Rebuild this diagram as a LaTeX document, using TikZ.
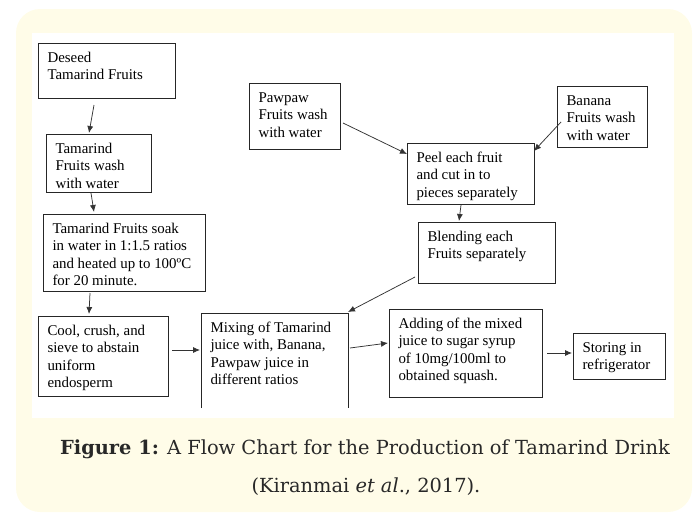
\documentclass[tikz,border=0pt]{standalone}
\usepackage{fontspec}
\setmainfont{Liberation Serif}
\newfontfamily\capfont{DejaVu Serif}
\usetikzlibrary{arrows.meta,calc}
\definecolor{bgyellow}{RGB}{255,252,232}
\definecolor{captext}{RGB}{40,40,40}
\newcommand\bx[3]{\parbox[c][#2pt][t]{#1pt}{\raggedright\leftskip=9.5pt\rule{0pt}{19.6pt}#3\par}}
\tikzset{
  flowbox/.style={draw=black!85, line width=0.75pt, inner sep=0pt, outer sep=0pt, anchor=north west,
    font=\fontsize{14.9pt}{17.2pt}\selectfont},
  openbox/.style={flowbox, draw=none},
  conn/.style={draw=black!80, line width=0.75pt, -{Latex[length=7pt,width=6pt]}},
  captxt/.style={anchor=base, inner sep=0pt, text=captext, font=\capfont\fontsize{19.4pt}{23pt}\selectfont}
}
\begin{document}
\begin{tikzpicture}[x=1pt,y=-1pt]
\useasboundingbox (0,0) rectangle (695,514);
\fill[bgyellow, rounded corners=24pt] (16,9) rectangle (692,512);
\fill[white] (32,33) rectangle (674,418);

\node[flowbox] (deseed) at (38,43) {\bx{137}{55}{Deseed\\Tamarind Fruits}};
\node[flowbox] (wash) at (46,134) {\bx{105}{58}{Tamarind\\Fruits wash\\with water}};
\node[flowbox] (soak) at (43,214) {\bx{162}{77}{Tamarind Fruits soak\\in water in 1:1.5 ratios\\and heated up to 100ºC\\for 20 minute.}};
\node[flowbox] (cool) at (38,316) {\bx{130}{80}{Cool, crush, and\\sieve to abstain\\uniform\\endosperm}};
\node[openbox] (mix) at (201,313) {\bx{147}{95}{Mixing of Tamarind\\juice with, Banana,\\Pawpaw juice in\\different ratios}};
\draw[black!85, line width=0.75pt] (mix.south west) -- (mix.north west) -- (mix.north east) -- (mix.south east);
\node[flowbox] (pawpaw) at (249,83) {\bx{91}{66}{Pawpaw\\Fruits wash\\with water}};
\node[flowbox] (banana) at (557,86) {\bx{90}{61}{Banana\\Fruits wash\\with water}};
\node[flowbox] (peel) at (407,143) {\bx{127}{61}{Peel each fruit\\and cut in to\\pieces separately}};
\node[flowbox] (blend) at (418,222) {\bx{137}{61}{Blending each\\Fruits separately}};
\node[flowbox] (add) at (389,309) {\bx{153}{88}{Adding of the mixed\\juice to sugar syrup\\of 10mg/100ml to\\obtained squash.}};
\node[flowbox] (store) at (573,333) {\bx{92}{46}{Storing in\\refrigerator}};

\draw[conn] ($(deseed.south west)+(56,7)$) -- ($(wash.north west)+(43,-1)$);
\draw[conn] ($(wash.south west)+(45,1)$) -- ($(soak.north west)+(51,-2)$);
\draw[conn] ($(soak.south west)+(47,2)$) -- ($(cool.north west)+(51,-2)$);
\draw[conn] ($(cool.north east)+(4,34)$) -- ($(mix.north west)+(-1,37)$);
\draw[conn] ($(pawpaw.north east)+(3,40)$) -- ($(peel.north west)+(0,11)$);
\draw[conn] ($(banana.north west)+(4,36)$) -- ($(peel.north east)+(0,8)$);
\draw[conn] ($(peel.south west)+(54,1)$) -- ($(blend.north west)+(41,-1)$);
\draw[conn] ($(blend.north west)+(-3,55)$) -- ($(mix.north east)+(0,-1)$);
\draw[conn] ($(mix.north east)+(2,35)$) -- ($(add.north west)+(-1,34)$);
\draw[conn] ($(add.north east)+(5,44)$) -- ($(store.north west)+(-1,20)$);

\node[captxt] (cap1) at (365,454) {\textbf{Figure 1:} A Flow Chart for the Production of Tamarind Drink};
\node[captxt] (cap2) at (366,492) {(Kiranmai \textit{et al}., 2017).};
\end{tikzpicture}
\end{document}
